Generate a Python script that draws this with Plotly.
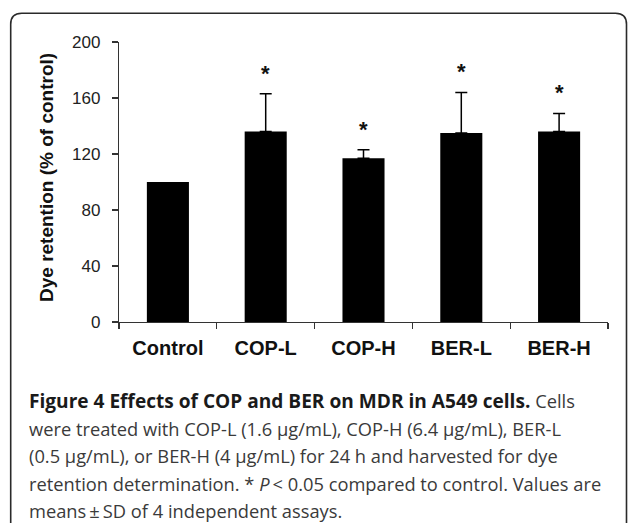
import plotly.graph_objects as go

# ---- data ----
categories = ["Control", "COP-L", "COP-H", "BER-L", "BER-H"]
means = [100, 136, 117, 135, 136]
sds = [None, 27, 6, 29, 13]
sig = ["", "*", "*", "*", "*"]
y_ticks = [0, 40, 80, 120, 160, 200]

caption_bold = "Figure 4 Effects of COP and BER on MDR in A549 cells."
caption_lines = [
    " Cells",
    "were treated with COP-L (1.6 μg/mL), COP-H (6.4 μg/mL), BER-L",
    "(0.5 μg/mL), or BER-H (4 μg/mL) for 24 h and harvested for dye",
    "retention determination. * <i>P</i>\u2009&lt; 0.05 compared to control. Values are",
    "means\u2009±\u2009SD of 4 independent assays.",
]
y_title = "Dye retention (% of control)"

# ---- layout geometry (pixels) ----
W, H = 628, 523
ML, MR, MT, MB = 119, 20, 42, 201
PW, PH = W - ML - MR, H - MT - MB


def px(x):
    return (x - ML) / PW


def py(y):
    return 1 - (y - MT) / PH


fig = go.Figure()
fig.add_trace(go.Bar(
    x=categories, y=means, width=0.43,
    marker=dict(color="#000000", line=dict(width=0)),
    showlegend=False, hoverinfo="skip",
))

# error bars (upper only) for points that have an SD
eb_x = [c for c, s in zip(categories, sds) if s is not None]
eb_y = [m for m, s in zip(means, sds) if s is not None]
eb_s = [s for s in sds if s is not None]
fig.add_trace(go.Scatter(
    x=eb_x, y=eb_y, mode="markers", marker=dict(size=1, opacity=0),
    error_y=dict(type="data", array=eb_s, arrayminus=[0] * len(eb_s),
                 symmetric=False, color="#000000", thickness=1.5, width=6),
    showlegend=False, hoverinfo="skip",
))

# significance stars
for c, m, s, t in zip(categories, means, sds, sig):
    if t:
        fig.add_annotation(x=c, y=m + (s or 0), xref="x", yref="y",
                           text="<b>%s</b>" % t, showarrow=False,
                           yanchor="bottom", yshift=6,
                           font=dict(family="Liberation Sans", size=22, color="#111"))

# y-axis title
fig.add_annotation(x=px(46), y=py(178), xref="paper", yref="paper",
                   text="<b>%s</b>" % y_title, textangle=-90, showarrow=False,
                   xanchor="center", yanchor="middle",
                   font=dict(family="Liberation Sans", size=19, color="#111"))

# caption
line_y = [400.7, 428.2, 455.7, 483.2, 510.7]
first = ('<span style="font-size:19.1px;color:#1a1a1a"><b>%s</b></span>' % caption_bold
         + caption_lines[0])
texts = [first] + caption_lines[1:]
for txt, yy in zip(texts, line_y):
    fig.add_annotation(x=px(26.5), y=py(yy), xref="paper", yref="paper",
                       text=txt, showarrow=False, xanchor="left", yanchor="middle",
                       align="left",
                       font=dict(family="Open Sans", size=18.3, color="#3a3a3a"))

# rounded frame
L, T, R, B, r = 10.7, 13.3, 626.5, 560, 11
path = (f"M {px(L)},{py(B)} L {px(L)},{py(T + r)} Q {px(L)},{py(T)} {px(L + r)},{py(T)} "
        f"L {px(R - r)},{py(T)} Q {px(R)},{py(T)} {px(R)},{py(T + r)} L {px(R)},{py(B)}")
fig.add_shape(type="path", path=path, xref="paper", yref="paper",
              line=dict(color="#2a2a2a", width=1.6))

fig.update_layout(
    width=W, height=H,
    margin=dict(l=ML, r=MR, t=MT, b=MB, pad=0),
    paper_bgcolor="white", plot_bgcolor="white",
    bargap=0.5, hovermode=False,
)
fig.update_xaxes(
    type="category", range=[-0.5, 4.5], tickson="boundaries",
    categoryorder="array", categoryarray=categories,
    ticks="outside", ticklen=6, tickwidth=1.2, tickcolor="#333",
    showline=True, linecolor="#333", linewidth=1.2,
    showgrid=False, zeroline=False, ticklabelstandoff=8,
    tickfont=dict(family="Liberation Sans", size=20, color="#111", weight="bold"),
)
fig.update_yaxes(
    range=[0, 200], tickvals=y_ticks, ticks="outside", ticklen=6,
    tickwidth=1.2, tickcolor="#333",
    showline=True, linecolor="#333", linewidth=1.2,
    showgrid=False, zeroline=False, ticklabelstandoff=8,
    tickfont=dict(family="Liberation Sans", size=17, color="#222"),
)

fig.write_html(
    "out.html",
    config={"displayModeBar": False, "staticPlot": True},
    post_script="document.body.style.margin='0px';document.body.style.overflow='hidden';",
)
